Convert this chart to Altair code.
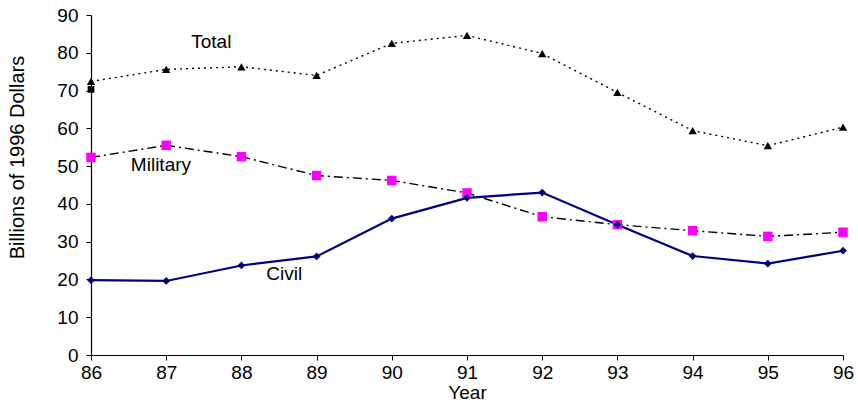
import altair as alt
import pandas as pd

years = [86, 87, 88, 89, 90, 91, 92, 93, 94, 95, 96]
total = [72.4, 75.6, 76.3, 74.0, 82.5, 84.6, 79.8, 69.5, 59.4, 55.4, 60.3]
military = [52.3, 55.5, 52.5, 47.5, 46.2, 42.9, 36.6, 34.5, 32.9, 31.4, 32.5]
civil = [19.8, 19.6, 23.7, 26.1, 36.1, 41.6, 43.0, 34.5, 26.2, 24.2, 27.6]

stray_x = [86]
stray_y = [70.3]

label_text = ["Total", "Military", "Civil"]
label_x = [87.60, 86.93, 88.57]
label_y = [82.8, 50.3, 21.4]

df_t = pd.DataFrame({"Year": years, "v": total})
df_m = pd.DataFrame({"Year": years, "v": military})
df_c = pd.DataFrame({"Year": years, "v": civil})
df_s = pd.DataFrame({"Year": stray_x, "v": stray_y})
df_l = pd.DataFrame({"t": label_text, "Year": label_x, "v": label_y})

xs = alt.Scale(domain=[86, 96], nice=False, zero=False)
ys = alt.Scale(domain=[0, 90], nice=False)
X = alt.X("Year:Q", scale=xs, title="Year",
          axis=alt.Axis(values=years, format="d", grid=False, labelFlush=False,
                        labelOverlap=False, labelPadding=3, titlePadding=1))
Y = alt.Y("v:Q", scale=ys, title="Billions of 1996 Dollars",
          axis=alt.Axis(values=list(range(0, 91, 10)), grid=False, labelFlush=False,
                        labelOverlap=False, labelPadding=8,
                        titleX=-74, titleY=142, titleBaseline="middle",
                        titleFontSize=20))

tl = alt.Chart(df_t).mark_line(color="black", strokeWidth=1.4, strokeDash=[2, 4]).encode(x=X, y=Y)
tp = alt.Chart(df_t).mark_point(shape="triangle-up", filled=True, color="black", size=70, opacity=1).encode(x=X, y=Y)
sp = alt.Chart(df_s).mark_point(shape="square", filled=True, color="black", size=45, opacity=1).encode(x=X, y=Y)
ml = alt.Chart(df_m).mark_line(color="black", strokeWidth=1.4, strokeDash=[9, 4, 2, 4]).encode(x=X, y=Y)
mp = alt.Chart(df_m).mark_point(shape="square", filled=True, color="#FF00FF", size=90, opacity=1).encode(x=X, y=Y)
cl = alt.Chart(df_c).mark_line(color="#000080", strokeWidth=2.2).encode(x=X, y=Y)
cp = alt.Chart(df_c).mark_point(shape="diamond", filled=True, color="#000080", size=60, opacity=1).encode(x=X, y=Y)
lb = alt.Chart(df_l).mark_text(fontSize=19, font="Liberation Sans", color="black",
                               baseline="middle").encode(x=X, y=Y, text="t:N")

chart = alt.layer(tl, ml, cl, tp, sp, mp, cp, lb).properties(
    width=752, height=340,
    autosize=alt.AutoSizeParams(type="none"),
    padding={"left": 91, "top": 15, "right": 15, "bottom": 54},
).configure_view(stroke=None).configure_axis(
    domainColor="black", tickColor="black", tickSize=5, domainWidth=1.2,
    labelFont="Liberation Sans", labelFontSize=19, labelColor="black",
    titleFont="Liberation Sans", titleFontSize=19, titleColor="black",
    titleFontWeight="normal",
)

chart.save("out.html", embed_options={"renderer": "svg", "actions": False})
